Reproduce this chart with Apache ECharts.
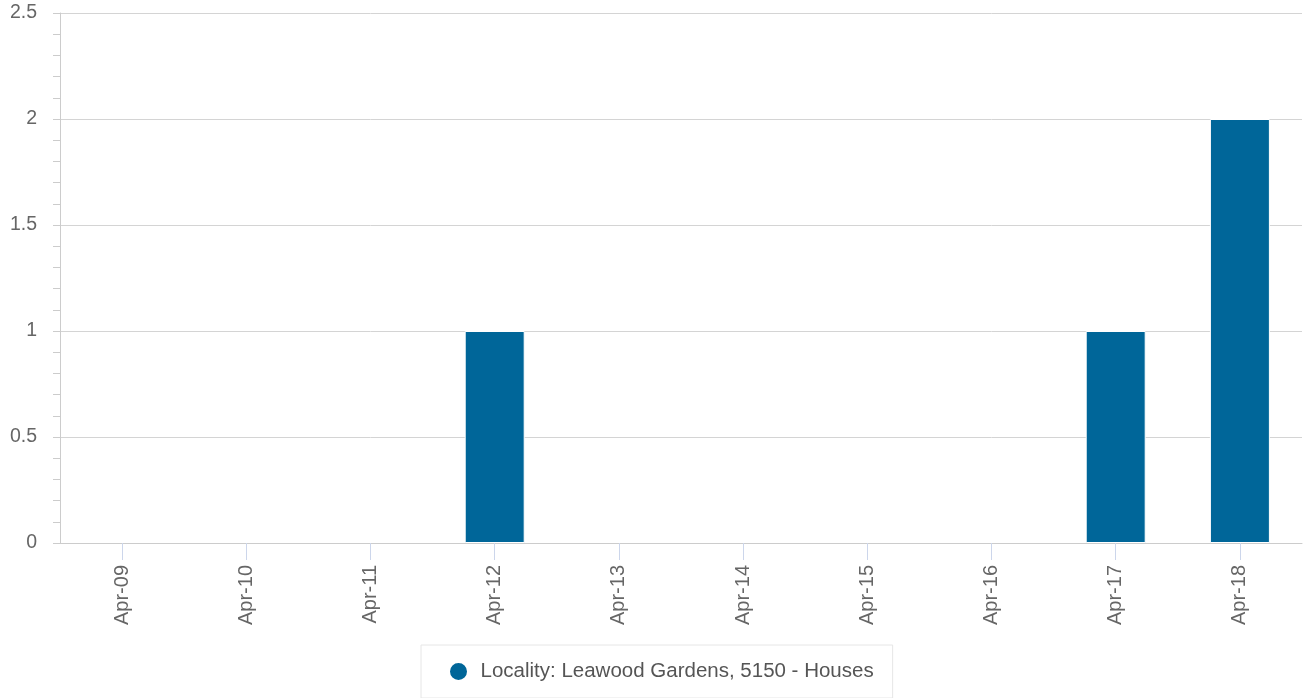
<!DOCTYPE html>
<html>
<head>
<meta charset="utf-8">
<script src="https://cdn.jsdelivr.net/npm/echarts@6/dist/echarts.min.js"></script>
<style>
html,body{margin:0;padding:0;background:#fff;}
#chart{width:1303px;height:698px;}
</style>
</head>
<body>
<div id="chart"></div>
<script>
const categories = ['Apr-09','Apr-10','Apr-11','Apr-12','Apr-13','Apr-14','Apr-15','Apr-16','Apr-17','Apr-18'];
const seriesName = 'Locality: Leawood Gardens, 5150 - Houses';
const values = [0, 0, 0, 1, 0, 0, 0, 0, 1, 2];

const FONT = '"Liberation Sans", Arial, Helvetica, sans-serif';
const chart = echarts.init(document.getElementById('chart'));
chart.setOption({
  animation: false,
  backgroundColor: '#ffffff',
  textStyle: { fontFamily: FONT },
  grid: { left: 60, top: 13, right: 1, bottom: 155, containLabel: false },
  legend: {
    data: [{ name: seriesName, icon: 'circle' }],
    left: 421,
    top: 645,
    orient: 'horizontal',
    itemWidth: 34,
    itemHeight: 19,
    padding: [16, 19, 16, 27],
    borderColor: '#e6e6e6',
    borderWidth: 1,
    backgroundColor: '#ffffff',
    textStyle: { fontFamily: FONT, fontSize: 20.5, color: '#555' }
  },
  xAxis: {
    type: 'category',
    data: categories,
    boundaryGap: true,
    axisLine: { show: true, lineStyle: { color: '#cccccc', width: 1 } },
    axisTick: { show: true, alignWithLabel: true, length: 17, lineStyle: { color: '#ccd6eb' } },
    axisLabel: { rotate: 90, margin: 22, fontSize: 20, color: '#666', fontFamily: FONT, interval: 0 },
    splitLine: { show: false }
  },
  yAxis: {
    type: 'value',
    min: 0,
    max: 2.5,
    interval: 0.5,
    axisLine: { show: true, lineStyle: { color: '#cccccc', width: 1 } },
    axisTick: { show: true, length: 7, lineStyle: { color: '#cccccc' } },
    minorTick: { show: true, splitNumber: 5, length: 7, lineStyle: { color: '#cccccc' } },
    axisLabel: { margin: 23, fontSize: 19.5, color: '#666', fontFamily: FONT },
    splitLine: { show: true, lineStyle: { color: '#d4d4d4', width: 1 } }
  },
  series: [{
    name: seriesName,
    type: 'bar',
    data: values.map(v => v === 0 ? { value: v, itemStyle: { borderWidth: 0 } } : v),
    barWidth: 60,
    itemStyle: { color: '#006699', borderColor: '#ffffff', borderWidth: 1 }
  }]
});
</script>
</body>
</html>
